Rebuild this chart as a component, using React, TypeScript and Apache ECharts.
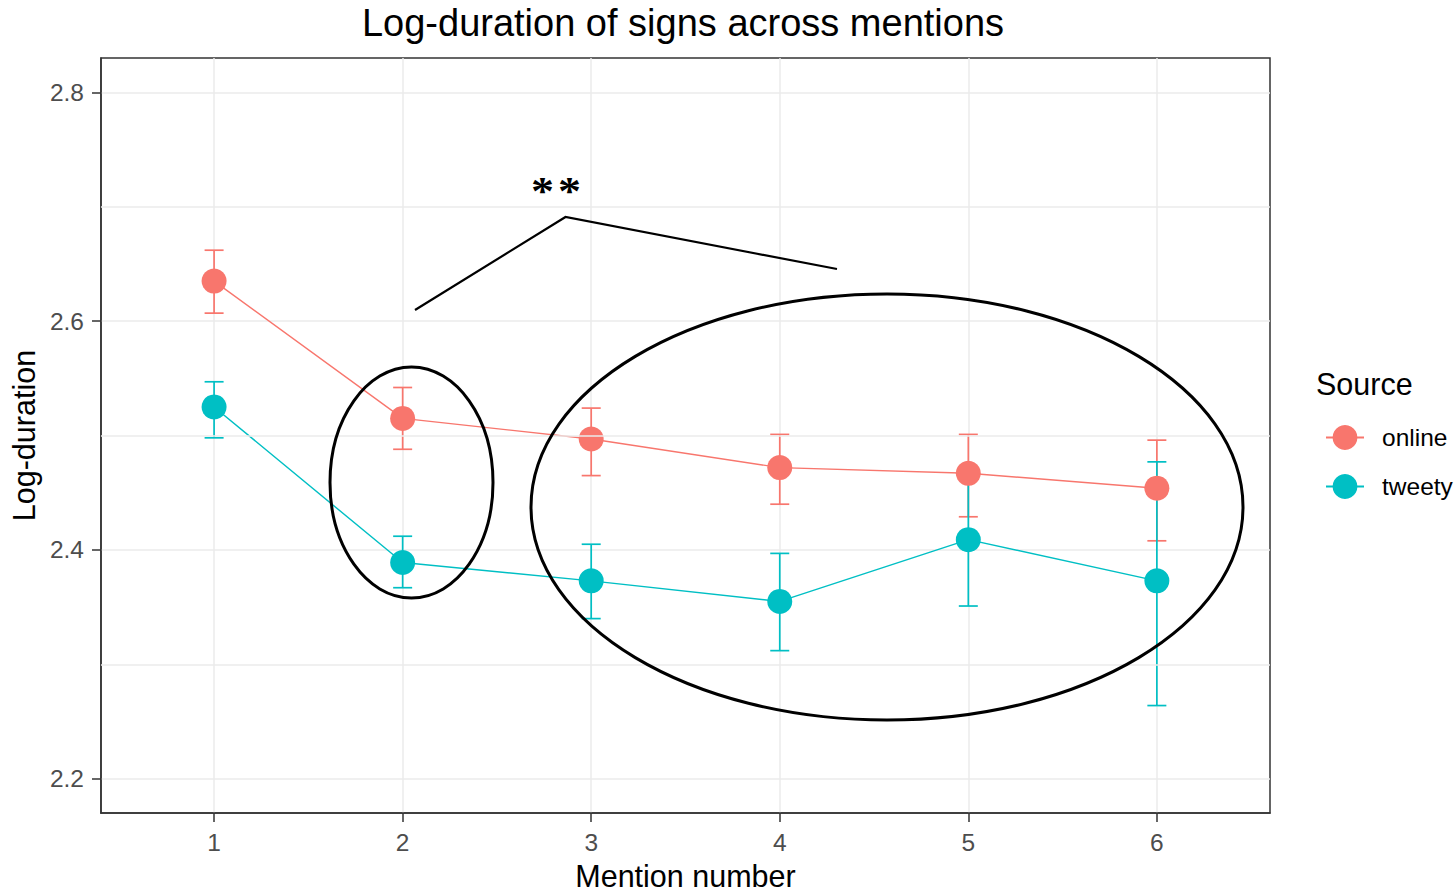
import React, { useEffect, useRef } from 'react';
import * as echarts from 'echarts';

const mentions = [1, 2, 3, 4, 5, 6];
const onlineMean = [2.635, 2.515, 2.497, 2.472, 2.467, 2.454];
const onlineLow = [2.607, 2.488, 2.465, 2.44, 2.429, 2.408];
const onlineHigh = [2.662, 2.542, 2.524, 2.501, 2.501, 2.496];
const tweetyMean = [2.525, 2.389, 2.373, 2.355, 2.409, 2.373];
const tweetyLow = [2.498, 2.367, 2.34, 2.312, 2.351, 2.264];
const tweetyHigh = [2.547, 2.412, 2.405, 2.397, 2.466, 2.477];
const yTicks = [2.2, 2.4, 2.6, 2.8];
const yMinor = [2.3, 2.5, 2.7];
const seriesNames = ['online', 'tweety'];
const colors = ['#F8766D', '#00BFC4'];

const FONT = '"Liberation Sans", Arial, sans-serif';

function errSeries(name: string, lows: number[], highs: number[], color: string) {
  return {
    type: 'custom',
    name,
    z: 1,
    silent: true,
    data: mentions.map((m, i) => [m, lows[i], highs[i]]),
    encode: { x: 0, y: [1, 2] },
    renderItem: (params: any, api: any) => {
      const x = api.value(0);
      const lo = api.value(1);
      const hi = api.value(2);
      const top = api.coord([x, hi]);
      const bot = api.coord([x, lo]);
      const hw = 9.5;
      const style = { stroke: color, lineWidth: 1.7 };
      return {
        type: 'group',
        children: [
          { type: 'line', shape: { x1: top[0], y1: top[1], x2: bot[0], y2: bot[1] }, style },
          { type: 'line', shape: { x1: top[0] - hw, y1: top[1], x2: top[0] + hw, y2: top[1] }, style },
          { type: 'line', shape: { x1: bot[0] - hw, y1: bot[1], x2: bot[0] + hw, y2: bot[1] }, style },
        ],
      };
    },
  };
}

function lineSeries(name: string, means: number[], color: string) {
  return {
    type: 'line',
    name,
    z: 3,
    data: mentions.map((m, i) => [m, means[i]]),
    symbol: 'circle',
    symbolSize: 25,
    showSymbol: true,
    lineStyle: { color, width: 1.4 },
    itemStyle: { color },
    emphasis: { disabled: true },
  };
}

export default function App() {
  const ref = useRef<HTMLDivElement>(null);
  useEffect(() => {
    const chart = echarts.init(ref.current!, null, { renderer: 'svg' });
    const option: any = {
      animation: false,
      backgroundColor: '#ffffff',
      title: {
        text: 'Log-duration of signs across mentions',
        left: 683,
        top: 4,
        textAlign: 'center',
        padding: 0,
        textStyle: { fontFamily: FONT, fontSize: 38, fontWeight: 'normal', color: '#000' },
      },
      grid: {
        left: 99,
        top: 58,
        width: 1171,
        height: 757,
        show: true,
        borderColor: '#333333',
        borderWidth: 1.5,
        backgroundColor: 'transparent',
      },
      legend: {
        orient: 'vertical',
        left: 1320,
        top: 420,
        itemWidth: 38,
        itemHeight: 31,
        itemGap: 24,
        data: seriesNames,
        textStyle: { fontFamily: FONT, fontSize: 24.5, color: '#000', padding: [0, 0, 0, 13] },
      },
      xAxis: {
        type: 'value',
        min: 0.4,
        max: 6.6,
        name: 'Mention number',
        nameLocation: 'middle',
        nameGap: 46,
        nameTextStyle: { fontFamily: FONT, fontSize: 30.5, color: '#000' },
        axisLine: { show: true, onZero: false, lineStyle: { color: '#333333', width: 1.5 } },
        axisTick: { show: true, customValues: mentions, length: 9, lineStyle: { color: '#333333', width: 1.5 } },
        axisLabel: { customValues: mentions, margin: 17, fontFamily: FONT, fontSize: 24.5, color: '#4D4D4D' },
        splitLine: { show: true, lineStyle: { color: '#EBEBEB', width: 1.5 } },
      },
      yAxis: {
        type: 'value',
        min: 2.17,
        max: 2.83,
        name: 'Log-duration',
        nameLocation: 'middle',
        nameRotate: 90,
        nameGap: 57,
        nameTextStyle: { fontFamily: FONT, fontSize: 30.5, color: '#000' },
        axisLine: { show: true, onZero: false, lineStyle: { color: '#333333', width: 1.5 } },
        axisTick: { show: true, customValues: yTicks, length: 9, lineStyle: { color: '#333333', width: 1.5 } },
        axisLabel: {
          customValues: yTicks,
          margin: 17,
          fontFamily: FONT,
          fontSize: 24.5,
          color: '#4D4D4D',
          formatter: (v: number) => v.toFixed(1),
        },
        splitLine: { show: true, lineStyle: { color: '#EBEBEB', width: 1.5 } },
      },
      series: [
        {
          type: 'line',
          name: 'minor-grid',
          z: 0,
          data: [],
          silent: true,
          markLine: {
            silent: true,
            symbol: 'none',
            label: { show: false },
            lineStyle: { color: '#EBEBEB', width: 1.5, type: 'solid' },
            data: yMinor.map((v) => ({ yAxis: v })),
          },
        },
        errSeries('online-err', onlineLow, onlineHigh, colors[0]),
        errSeries('tweety-err', tweetyLow, tweetyHigh, colors[1]),
        lineSeries(seriesNames[0], onlineMean, colors[0]),
        lineSeries(seriesNames[1], tweetyMean, colors[1]),
      ],
      graphic: [
        {
          type: 'text',
          left: 1316,
          top: 368,
          style: { text: 'Source', font: `30.5px ${FONT}`, fill: '#000' },
        },
        {
          type: 'ellipse',
          shape: { cx: 411.5, cy: 482.5, rx: 81.5, ry: 115.5 },
          style: { fill: 'none', stroke: '#000', lineWidth: 3 },
          z: 10,
        },
        {
          type: 'ellipse',
          shape: { cx: 887, cy: 507, rx: 356, ry: 213 },
          style: { fill: 'none', stroke: '#000', lineWidth: 3 },
          z: 10,
        },
        {
          type: 'polyline',
          shape: { points: [[415, 310], [565.5, 217], [837, 269]] },
          style: { fill: 'none', stroke: '#000', lineWidth: 2.2 },
          z: 10,
        },
        {
          type: 'text',
          x: 556,
          y: 191,
          scaleY: 0.85,
          style: {
            text: '*\u200A*',
            font: `bold 46px "Liberation Serif", serif`,
            fill: '#000',
            align: 'center',
            verticalAlign: 'middle',
          },
          z: 10,
        },
      ],
    };
    chart.setOption(option);
    return () => chart.dispose();
  }, []);
  return (
    <div
      ref={ref}
      style={{ position: 'fixed', left: 0, top: 0, width: 1455, height: 896, background: '#fff' }}
    />
  );
}
